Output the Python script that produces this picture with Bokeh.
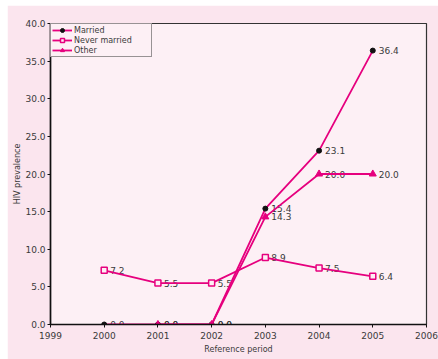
from bokeh.plotting import figure
from bokeh.models import ColumnDataSource, FixedTicker, PrintfTickFormatter, Legend, LegendItem
from bokeh.core.properties import value
from bokeh.embed import file_html
from bokeh.resources import INLINE

# HIV prevalence by marital status and reference period
years_married = [2000, 2001, 2002, 2003, 2004, 2005]
married = [0.0, 0.0, 0.0, 15.4, 23.1, 36.4]

years_never = [2000, 2001, 2002, 2003, 2004, 2005]
never_married = [7.2, 5.5, 5.5, 8.9, 7.5, 6.4]

years_other = [2001, 2002, 2003, 2004, 2005]
other = [0.0, 0.0, 14.3, 20.0, 20.0]

x_ticks = [1999, 2000, 2001, 2002, 2003, 2004, 2005, 2006]
y_ticks = [0, 5, 10, 15, 20, 25, 30, 35, 40]

PINK = "#e6007e"
FONT = "DejaVu Sans"
TEXT = "#3a3a3a"

p = figure(width=431, height=354, x_range=(1999, 2006), y_range=(0, 40),
           output_backend="svg", toolbar_location=None,
           min_border_left=43, min_border_right=12, min_border_top=18, min_border_bottom=35,
           background_fill_color="#fdf0f5", border_fill_color="#fbe5ee",
           outline_line_color="#333333", outline_line_width=1.2)
p.margin = (5, 0, 0, 7)
p.grid.visible = False

for ax in (p.xaxis[0], p.yaxis[0]):
    ax.axis_line_color = "#111111"
    ax.axis_line_width = 1.6
    ax.major_tick_line_color = "#111111"
    ax.major_tick_out = 3
    ax.major_tick_in = 0
    ax.minor_tick_line_color = None
    ax.major_label_text_font = FONT
    ax.major_label_text_font_size = "9px"
    ax.major_label_text_color = TEXT
    ax.axis_label_text_font = FONT
    ax.axis_label_text_font_size = "8px"
    ax.axis_label_text_font_style = "normal"
    ax.axis_label_text_color = TEXT

p.xaxis.ticker = FixedTicker(ticks=x_ticks)
p.xaxis.major_label_standoff = 4
p.xaxis.axis_label = "Reference period"
p.xaxis.axis_label_standoff = 3
p.yaxis.ticker = FixedTicker(ticks=y_ticks)
p.yaxis.formatter = PrintfTickFormatter(format="%.1f")
p.yaxis.major_label_standoff = 2
p.yaxis.axis_label = "HIV prevalence"
p.yaxis.axis_label_standoff = 0

series = [
    ("Married", years_married, married),
    ("Never married", years_never, never_married),
    ("Other", years_other, other),
]

# value labels sit under the lines
for name, xs, ys in series:
    src = ColumnDataSource(dict(x=xs, y=ys, t=[f"{v:.1f}" for v in ys]))
    p.text("x", "y", text="t", source=src, x_offset=6, text_baseline="middle",
           text_font=value(FONT), text_font_size="9px", text_color=TEXT)

items = []
styles = {
    "Married": dict(marker="circle", size=5, fill_color="#111111", line_color="#111111", line_width=1),
    "Never married": dict(marker="square", size=6, fill_color="#fdf0f5", line_color=PINK, line_width=1.5),
    "Other": dict(marker="triangle", size=7, fill_color=PINK, line_color=PINK, line_width=1),
}
for name, xs, ys in series:
    src = ColumnDataSource(dict(x=xs, y=ys))
    ln = p.line("x", "y", source=src, line_color=PINK, line_width=1.8)
    sc = p.scatter("x", "y", source=src, **styles[name])
    items.append(LegendItem(label=name, renderers=[ln, sc]))

legend = Legend(items=items, location="top_left", margin=0, padding=1, spacing=0,
                glyph_width=20, glyph_height=10, label_height=10, label_width=76,
                label_standoff=2, label_text_font=FONT, label_text_font_size="8px",
                label_text_color=TEXT, border_line_color="#333333", border_line_width=1,
                background_fill_color="#fdf0f5", background_fill_alpha=1)
p.add_layout(legend, "center")

open("out.html", "w").write(file_html(p, INLINE))
